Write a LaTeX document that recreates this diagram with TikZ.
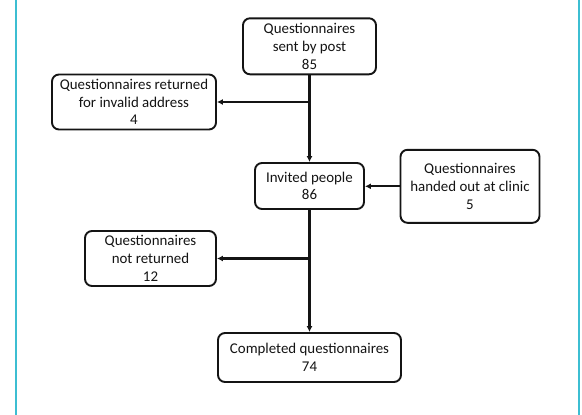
\documentclass[tikz,border=0pt]{standalone}
\usepackage{fontspec}
\setmainfont{Carlito}
\usetikzlibrary{arrows.meta}
\definecolor{framecyan}{RGB}{60,190,210}
\definecolor{ink}{RGB}{20,20,20}
\tikzset{
  box/.style={draw=ink, line width=1.9pt, rounded corners=7pt, align=center,
    inner sep=0pt, font=\fontsize{14.9pt}{17.7pt}\selectfont, text=ink},
  flow/.style={draw=ink, line width=2.3pt, -{Latex[length=6pt,width=6pt]}},
}
\begin{document}
\begin{tikzpicture}[x=1pt,y=-1pt]
\useasboundingbox (0,0) rectangle (582,415);
\fill[white] (0,0) rectangle (582,415);
\draw[framecyan, line width=2pt] (16,0) -- (16,415);
\draw[framecyan, line width=2pt] (579,0) -- (579,415);

\node[box, minimum width=133pt, minimum height=56pt] (post) at (309.5,46.3)
  {Questionnaires\\sent by post\\85};
\node[box, minimum width=164pt, minimum height=55pt] (invalid) at (134,102)
  {Questionnaires returned\\for invalid address\\4};
\node[box, minimum width=109pt, minimum height=46pt] (invited) at (309.5,186)
  {Invited people\\86};
\node[box, minimum width=139pt, minimum height=73pt] (clinic) at (470,186.3)
  {Questionnaires\\handed out at clinic\\5};
\node[box, minimum width=131pt, minimum height=55pt] (notret) at (150.5,258.5)
  {Questionnaires\\not returned\\12};
\node[box, minimum width=183pt, minimum height=49pt] (done) at (309.5,357.5)
  {Completed questionnaires\\74};

\coordinate (j1) at (post.south |- invalid.east);
\coordinate (j2) at (invited.south |- notret.east);

\draw[flow] (post.south) -- (invited.north);
\draw[flow] (j1) -- (invalid.east);
\draw[flow] (clinic.west) -- (clinic.west -| invited.east);
\draw[flow] (invited.south) -- (done.north);
\draw[flow] (j2) -- (notret.east);
\end{tikzpicture}
\end{document}
